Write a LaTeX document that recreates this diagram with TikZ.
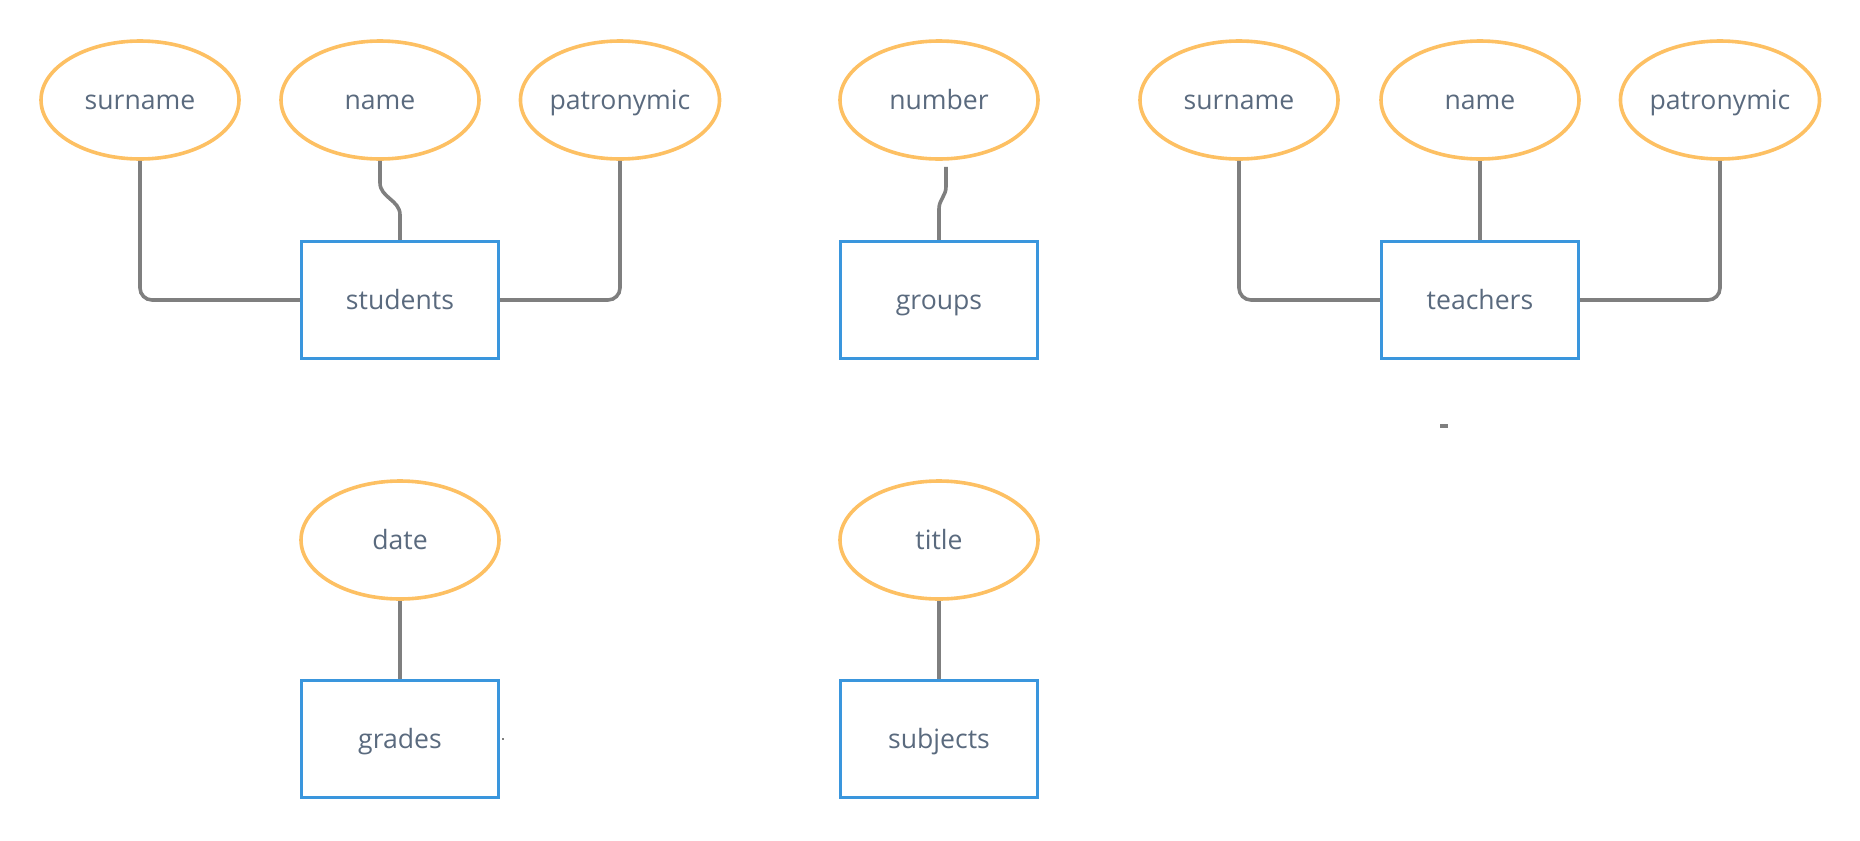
\documentclass[tikz,border=0pt]{standalone}
\usepackage{fontspec}
\setmainfont{Open Sans}
\usepackage{xcolor}
\usepackage{tikz}
\usetikzlibrary{shapes.geometric}
\definecolor{cLaranja}{HTML}{FDC063}
\definecolor{cAzul}{HTML}{3A96DD}
\definecolor{cCinza}{HTML}{7F7F7F}
\definecolor{cTexto}{HTML}{5A6A7E}

\begin{document}
\begin{tikzpicture}[
  x=0.5pt,y=0.5pt,font=\fontsize{13.3}{16}\selectfont,text=cTexto,
  atr/.style={draw=cLaranja,ellipse,line width=1.8pt,inner sep=0pt,
              minimum width=99pt,minimum height=59pt,text height=11pt,text depth=2pt},
  ent/.style={draw=cAzul,rectangle,line width=1.7pt,inner sep=0pt,
              minimum width=98.5pt,minimum height=58.5pt,text height=11pt,text depth=2pt},
  lig/.style={draw=cCinza,line width=1.8pt,rounded corners=6pt}
]
\useasboundingbox (0,0) rectangle (1860,-841);

% ---- students
\node[atr] (s1) at (140,-100) {surname};
\node[atr] (s2) at (380,-100) {name};
\node[atr] (s3) at (620,-100) {patronymic};
\node[ent] (st) at (400,-300) {students};

% ---- groups
\node[atr] (n1) at (939,-100) {number};
\node[ent] (gr) at (939,-300) {groups};

% ---- teachers
\node[atr] (t1) at (1239,-100) {surname};
\node[atr] (t2) at (1480,-100) {name};
\node[atr] (t3) at (1720,-100) {patronymic};
\node[ent] (te) at (1480,-300) {teachers};

% ---- grades e subjects
\node[atr] (d1) at (400,-540) {date};
\node[ent] (gd) at (400,-739) {grades};
\node[atr] (ti) at (939,-540) {title};
\node[ent] (sb) at (939,-739) {subjects};

% ---- ligacoes
\draw[lig] (s1.south) |- (st.west);
\draw[lig,rounded corners=0pt] (s2.south) -- ++(0,-22) to[out=-90,in=90] ++(20,-32) -- (st.north);
\draw[lig] (s3.south) |- (st.east);
\draw[lig,rounded corners=0pt] ([xshift=3.5pt,yshift=-3pt]n1.south) -- ++(0,-20)
      to[out=-90,in=90] ++(-7,-22) -- (gr.north);
\draw[lig] (t1.south) |- (te.west);
\draw[lig] (t2.south) -- (te.north);
\draw[lig] (t3.south) |- (te.east);
\draw[lig] (d1) -- (gd);
\draw[lig] (ti) -- (sb);

% ---- marcas soltas
\coordinate (m1) at (1440,-426);
\coordinate (m2) at (1448,-426);
\draw[lig,line width=2pt] (m1) -- (m2);
\draw[cCinza,line width=1pt] ([xshift=1pt]gd.east) -- ++(2,0);
\end{tikzpicture}
\end{document}
